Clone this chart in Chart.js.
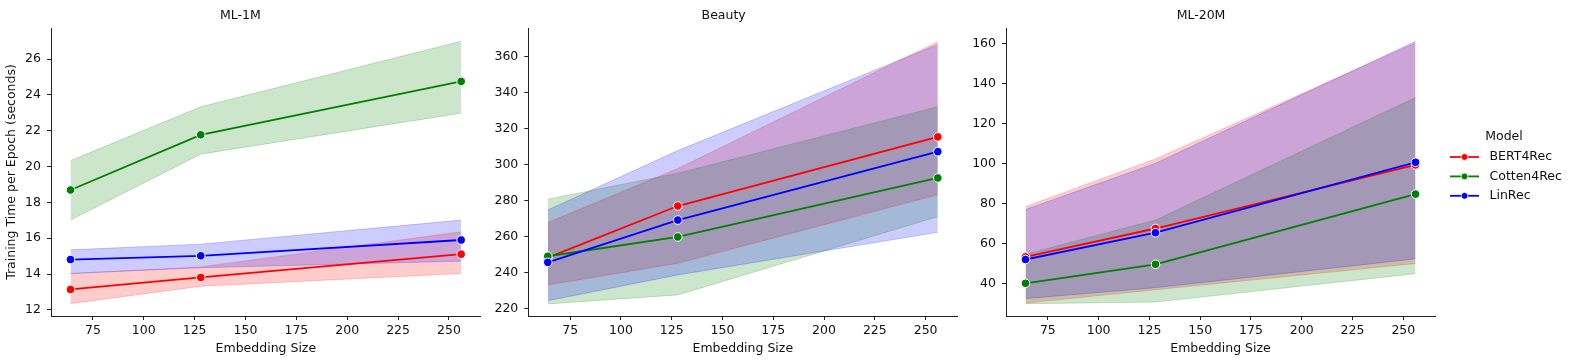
<!DOCTYPE html>
<html>
<head>
<meta charset="utf-8">
<script src="https://cdn.jsdelivr.net/npm/chart.js@4/dist/chart.umd.min.js"></script>
<style>
  body { margin: 0; background: #fff; }
  .panel { position: absolute; top: 0; height: 363px; }
</style>
</head>
<body>
<div class="panel" style="left:0;width:490px"><canvas id="c1"></canvas></div>
<div class="panel" style="left:490px;width:477px"><canvas id="c2"></canvas></div>
<div class="panel" style="left:967px;width:602px"><canvas id="c3"></canvas></div>
<script>
// embedding sizes on the x axis
const embeddingSizes = [64, 128, 256];
const models = ['BERT4Rec', 'Cotten4Rec', 'LinRec'];
const modelColors = ['red', 'green', 'blue'];
const bandColors = ['rgba(255,0,0,0.2)', 'rgba(0,128,0,0.2)', 'rgba(0,0,255,0.2)'];

const xTicks = [75, 100, 125, 150, 175, 200, 225, 250];

// ML-1M
const ml1mMean = [[13.14, 13.81, 15.11], [18.69, 21.77, 24.75], [14.81, 15.02, 15.9]];
const ml1mLow  = [[12.35, 13.32, 14.03], [17.01, 20.69, 22.98], [14.03, 14.35, 14.72]];
const ml1mHigh = [[14.03, 14.4, 16.36], [20.33, 23.33, 26.99], [15.35, 15.67, 17.01]];
const ml1mTicks = [12, 14, 16, 18, 20, 22, 24, 26];

// Beauty
const beautyMean = [[248.5, 277.2, 315.6], [249.3, 260, 292.8], [245.9, 269.4, 307.4]];
const beautyLow  = [[233.3, 245.4, 283.5], [222.8, 227.8, 271.3], [224.6, 238.9, 262.6]];
const beautyHigh = [[268, 298, 368.5], [281, 295.4, 332.4], [275, 308, 367]];
const beautyTicks = [220, 240, 260, 280, 300, 320, 340, 360];

// ML-20M
const ml20mMean = [[53.2, 67.4, 99.2], [40, 49.5, 84.6], [51.9, 65.3, 100.5]];
const ml20mLow  = [[30.1, 36.8, 49.9], [29.8, 30.6, 44.8], [32.3, 37.8, 52.2]];
const ml20mHigh = [[78.3, 102.2, 160.2], [54.5, 71.6, 132.9], [76.9, 100, 161]];
const ml20mTicks = [40, 60, 80, 100, 120, 140, 160];

const FONT = 'DejaVu Sans';
const FS = 12.5;
const TEXT = '#111';

function pts(vals) {
  return vals.map((v, i) => ({ x: embeddingSizes[i], y: v }));
}

function buildDatasets(mean, low, high) {
  const lines = [];
  const bands = [];
  // lines: first in array is drawn on top, so LinRec goes first
  for (let m = models.length - 1; m >= 0; m--) {
    lines.push({
      label: models[m],
      data: pts(mean[m]),
      borderColor: modelColors[m],
      backgroundColor: modelColors[m],
      borderWidth: 1.8,
      pointRadius: 4.3,
      pointBorderColor: '#fff',
      pointBorderWidth: 1,
      pointBackgroundColor: modelColors[m],
      fill: false
    });
  }
  for (let m = models.length - 1; m >= 0; m--) {
    bands.push({
      label: models[m] + ' hi',
      data: pts(high[m]),
      borderColor: bandColors[m],
      borderWidth: 1,
      pointRadius: 0,
      fill: false
    });
    bands.push({
      label: models[m] + ' lo',
      data: pts(low[m]),
      borderColor: bandColors[m],
      backgroundColor: bandColors[m],
      borderWidth: 1,
      pointRadius: 0,
      fill: '-1'
    });
  }
  return lines.concat(bands);
}

// legend drawn to the right of the last panel
const legendPlugin = {
  id: 'sideLegend',
  afterDraw(chart) {
    if (!chart.options.plugins.sideLegend || !chart.options.plugins.sideLegend.show) return;
    const ctx = chart.ctx;
    const off = 967;
    const x0 = 1450 - off;
    ctx.save();
    ctx.font = FS + 'px "' + FONT + '"';
    ctx.fillStyle = TEXT;
    ctx.textBaseline = 'middle';
    ctx.textAlign = 'center';
    ctx.fillText('Model', 1504 - off, 137);
    ctx.textAlign = 'left';
    models.forEach((name, i) => {
      const y = 157 + i * 19.4;
      ctx.strokeStyle = modelColors[i];
      ctx.lineWidth = 1.8;
      ctx.beginPath();
      ctx.moveTo(x0, y);
      ctx.lineTo(x0 + 29, y);
      ctx.stroke();
      ctx.beginPath();
      ctx.arc(x0 + 14.5, y, 3.4, 0, Math.PI * 2);
      ctx.fillStyle = modelColors[i];
      ctx.fill();
      ctx.strokeStyle = '#fff';
      ctx.lineWidth = 0.8;
      ctx.stroke();
      ctx.fillStyle = TEXT;
      ctx.fillText(name, 1489.5 - off, y);
    });
    ctx.restore();
  }
};

function makeChart(id, title, mean, low, high, yMin, yMax, yTicks, yWidth, padRight, showYTitle, showLegend) {
  return new Chart(document.getElementById(id), {
    type: 'line',
    data: { datasets: buildDatasets(mean, low, high) },
    plugins: [legendPlugin],
    options: {
      responsive: true,
      maintainAspectRatio: false,
      animation: false,
      layout: { padding: { left: 0, right: padRight, top: 0, bottom: 0 } },
      plugins: {
        legend: { display: false },
        tooltip: { enabled: false },
        filler: { drawTime: 'beforeDatasetsDraw' },
        sideLegend: { show: showLegend },
        title: {
          display: true,
          text: title,
          color: TEXT,
          font: { family: FONT, size: FS, weight: 'normal' },
          padding: { top: 8.5, bottom: 4.5 }
        }
      },
      scales: {
        x: {
          type: 'linear',
          min: 54.4,
          max: 265.6,
          afterBuildTicks: (s) => { s.ticks = xTicks.map(v => ({ value: v })); },
          afterFit: (s) => { s.height = 47; },
          grid: { display: true, drawOnChartArea: false, drawTicks: true, tickLength: 4, color: '#222' },
          border: { display: true, color: '#222', width: 1 },
          ticks: { color: TEXT, font: { family: FONT, size: FS }, padding: 3.5, maxRotation: 0 },
          title: {
            display: true,
            text: 'Embedding Size',
            color: TEXT,
            font: { family: FONT, size: FS },
            padding: { top: 4, bottom: 6.3 }
          }
        },
        y: {
          type: 'linear',
          min: yMin,
          max: yMax,
          afterBuildTicks: (s) => { s.ticks = yTicks.map(v => ({ value: v })); },
          afterFit: (s) => { s.width = yWidth; },
          grid: { display: true, drawOnChartArea: false, drawTicks: true, tickLength: 4, color: '#222' },
          border: { display: true, color: '#222', width: 1 },
          ticks: { color: TEXT, font: { family: FONT, size: FS }, padding: 6 },
          title: {
            display: showYTitle,
            text: 'Training Time per Epoch (seconds)',
            color: TEXT,
            font: { family: FONT, size: FS },
            padding: { top: 4.5, bottom: 4 }
          }
        }
      }
    }
  });
}

makeChart('c1', 'ML-1M', ml1mMean, ml1mLow, ml1mHigh, 11.66, 27.73, ml1mTicks, 51, 9.3, true, false);
makeChart('c2', 'Beauty', beautyMean, beautyLow, beautyHigh, 216.1, 376.1, beautyTicks, 38.3, 9.7, false, false);
makeChart('c3', 'ML-20M', ml20mMean, ml20mLow, ml20mHigh, 23.65, 167.65, ml20mTicks, 39, 134, false, true);
</script>
</body>
</html>
